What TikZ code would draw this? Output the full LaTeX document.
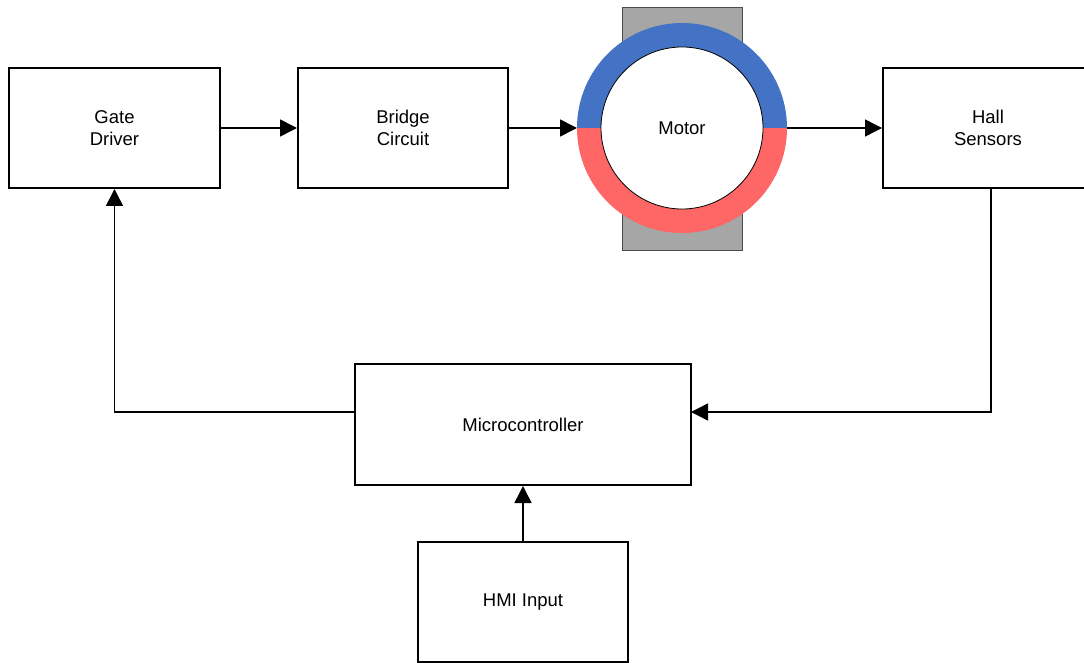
\documentclass[tikz,border=0pt]{standalone}
\usepackage{fontspec}
\setmainfont{Liberation Sans}
\usetikzlibrary{arrows.meta}
\definecolor{ringblue}{HTML}{4472C4}
\definecolor{ringred}{HTML}{FF6666}
\definecolor{housing}{HTML}{A6A6A6}
\begin{document}
\begin{tikzpicture}[x=1pt,y=-1pt,
  blk/.style={draw=black,line width=2pt,fill=white,inner sep=0pt,align=center,
    font=\fontsize{18.5}{21.5}\selectfont},
  conn/.style={line width=1.5pt,-{Triangle[length=17pt,width=17pt]}},
  plain/.style={line width=1.5pt}]
\useasboundingbox (0,0) rectangle (1084,663);
\clip (0,0) rectangle (1084,663);
% motor housing
\draw[fill=housing,draw=black!70,line width=0.8pt] (622,7) rectangle (742,250);
\fill[ringred] (577,128) arc[start angle=180,end angle=0,radius=105] -- cycle;
\fill[ringblue] (577,128) arc[start angle=180,end angle=360,radius=105] -- cycle;
\node[circle,draw=black,line width=0.8pt,fill=white,minimum size=162pt,inner sep=0pt,
  font=\fontsize{18.5}{21.5}\selectfont] (motor) at (682,128) {Motor};
\coordinate (motorin) at (577,128);
\coordinate (motorout) at (787,128);
% blocks
\node[blk,minimum width=211pt,minimum height=120pt] (gate) at (114.5,128) {Gate\\Driver};
\node[blk,minimum width=210pt,minimum height=120pt] (bridge) at (403,128) {Bridge\\Circuit};
\node[blk,minimum width=210pt,minimum height=120pt] (hall) at (988,128) {Hall\\Sensors};
\node[blk,minimum width=336pt,minimum height=121pt] (mcu) at (523,424.5) {Microcontroller};
\node[blk,minimum width=210pt,minimum height=120pt] (hmi) at (523,602) {HMI Input};
% connectors
\draw[conn] (gate.east) -- (bridge.west);
\draw[conn] (bridge.east) -- (motorin);
\draw[conn] (motorout) -- (hall.west);
\coordinate (hallout) at (991,188);
\coordinate (mcuin) at (691,412);
\coordinate (mcuout) at (355,412);
\draw[conn] (hallout) |- (mcuin);
\draw[conn] (mcuout) -| (gate.south);
\draw[conn] (hmi.north) -- (mcu.south);
\end{tikzpicture}
\end{document}
